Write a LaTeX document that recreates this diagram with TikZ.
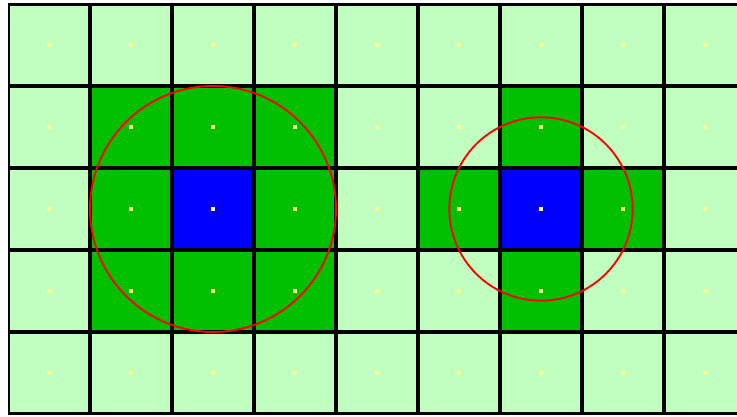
\documentclass[tikz,border=0pt]{standalone}
\usepackage{tikz}
\usetikzlibrary{positioning}
\definecolor{fillp}{RGB}{192,255,192}
\definecolor{fillg}{RGB}{0,192,0}
\definecolor{fillb}{RGB}{0,0,255}
\definecolor{dotyellow}{RGB}{255,255,140}

\begin{document}
\begin{tikzpicture}[x=1cm, y=-1cm,
    cell/.style={rectangle, minimum size=1cm, inner sep=0pt, outer sep=0pt},
    dot/.style={rectangle, fill=dotyellow, inner sep=0pt, minimum size=0.045cm},
    reach/.style={draw=red, line width=0.65pt}
  ]
    \useasboundingbox (-0.0976,-0.0488) rectangle (8.890,5.0366);
    \clip (-0.0976,-0.0488) rectangle (8.890,5.0366);
    % p = pale, g = green, b = blue
    \foreach \row [count=\j from 0] in {
        {p,p,p,p,p,p,p,p,p},
        {p,g,g,g,p,p,g,p,p},
        {p,g,b,g,p,g,b,g,p},
        {p,g,g,g,p,p,g,p,p},
        {p,p,p,p,p,p,p,p,p}}
      \foreach \k [count=\i from 0] in \row {
        \node[cell, fill=fill\k] (c-\i-\j) at (\i+0.5,\j+0.5) {};
        \node[dot] (d-\i-\j) at (c-\i-\j) {};
      }
    \begin{scope}
      \clip (0,0) rectangle (9,5);
      \draw[line width=1.7pt] (0,0) grid (9,5);
    \end{scope}
    \draw[reach] (c-2-2) circle (1.5);
    \draw[reach] (c-6-2) circle (1.118);
  \end{tikzpicture}
\end{document}
